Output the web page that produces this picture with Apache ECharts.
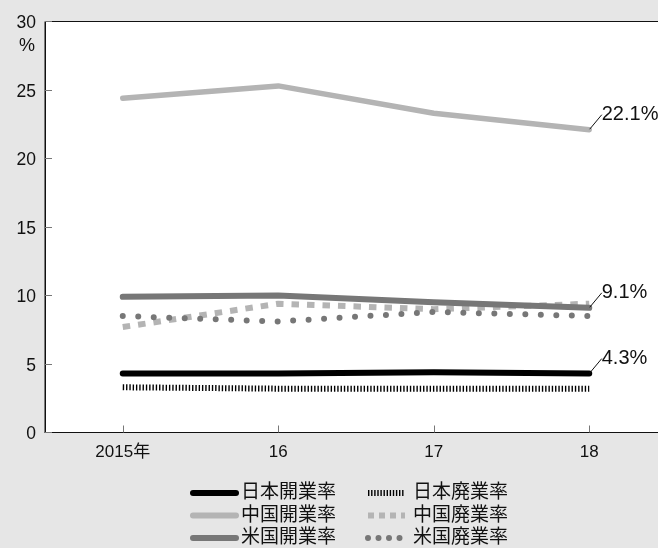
<!DOCTYPE html>
<html>
<head>
<meta charset="utf-8">
<script src="https://cdn.jsdelivr.net/npm/echarts@6/dist/echarts.min.js"></script>
<style>
  html, body { margin: 0; padding: 0; background: #e6e6e6; }
  #chart { width: 658px; height: 548px; }
</style>
</head>
<body>
<div id="chart"></div>
<script>
// Years on the category axis
const years = ['2015年', '16', '17', '18'];

// Start-up (開業率) and closure (廃業率) rates, %
const jpOpen  = [4.3, 4.3, 4.4, 4.3];
const jpClose = [3.3, 3.2, 3.2, 3.2];
const cnOpen  = [24.4, 25.3, 23.3, 22.1];
const cnClose = [7.7, 9.4, 9.0, 9.4];
const usOpen  = [9.9, 10.0, 9.5, 9.1];
const usClose = [8.5, 8.1, 8.8, 8.5];

// Value-axis range
const yMin = 0, yMax = 30, yStep = 5;

const font = "'Liberation Sans', 'Noto Sans CJK JP', sans-serif";

// Only the final year gets a value label, moved up-right with a leader line
function withEndLabel(values, labelled) {
  return values.map((v, i) => {
    if (labelled && i === values.length - 1) {
      return { value: v, symbol: 'circle', symbolSize: 1, label: { show: true } };
    }
    return v;
  });
}

function lineSeries(name, values, color, width, dash, cap, labelled) {
  return {
    name: name,
    type: 'line',
    data: withEndLabel(values, labelled),
    symbol: 'none',
    showSymbol: true,
    showAllSymbol: true,
    smooth: false,
    z: 3,
    lineStyle: { color: color, width: width, type: dash, cap: cap, join: 'round' },
    itemStyle: { color: color },
    emphasis: { disabled: true },
    label: {
      show: false,
      position: 'right',
      distance: 5,
      formatter: p => p.value.toFixed(1) + '%',
      fontFamily: font,
      fontSize: 20,
      lineHeight: 14,
      color: '#111'
    },
    labelLayout: { dx: 7, dy: -15 },
    labelLine: { show: true, lineStyle: { color: '#111', width: 1 } }
  };
}

const legendCommon = {
  orient: 'vertical',
  top: 483,
  padding: 0,
  itemHeight: 8,
  itemGap: 2.5,
  selectedMode: false,
  itemStyle: { opacity: 0 },
  lineStyle: { width: 6 }
};

const chart = echarts.init(document.getElementById('chart'), null, { renderer: 'canvas' });

chart.setOption({
  backgroundColor: '#e6e6e6',
  animation: false,
  grid: {
    left: 45,
    top: 21.5,
    width: 622,
    height: 411,
    outerBoundsMode: 'none',
    show: true,
    backgroundColor: '#ffffff',
    borderColor: '#111',
    borderWidth: 1,
    containLabel: false
  },
  xAxis: {
    type: 'category',
    data: years,
    boundaryGap: true,
    axisLine: { show: true, lineStyle: { color: '#111', width: 1 } },
    axisTick: { show: true, inside: true, length: 7, alignWithLabel: true, lineStyle: { color: '#777' } },
    axisLabel: { fontFamily: font, fontSize: 17, color: '#111', margin: 11 },
    splitLine: { show: false }
  },
  yAxis: {
    type: 'value',
    min: yMin,
    max: yMax,
    interval: yStep,
    name: '%',
    nameLocation: 'end',
    nameGap: -16,
    nameTextStyle: { fontFamily: font, fontSize: 18, color: '#111', align: 'right', verticalAlign: 'top', padding: [0, 10, 0, 0] },
    axisLine: { show: true, lineStyle: { color: '#111', width: 1 } },
    axisTick: { show: true, inside: true, length: 7, lineStyle: { color: '#777' } },
    axisLabel: { fontFamily: font, fontSize: 17.5, color: '#111', margin: 9, verticalAlign: 'top', lineHeight: 4 },
    splitLine: { show: false }
  },
  legend: [
    Object.assign({}, legendCommon, {
      data: ['日本開業率', '中国開業率', '米国開業率'],
      left: 190,
      itemWidth: 43,
      textStyle: { fontFamily: font, fontSize: 19, color: '#111', lineHeight: 20, padding: [0, 0, 0, 0] }
    }),
    Object.assign({}, legendCommon, {
      data: [
        { name: '日本廃業率', lineStyle: { type: [1.4, 1.7], cap: 'butt' } },
        { name: '中国廃業率', lineStyle: { type: [6, 5], cap: 'butt' } },
        { name: '米国廃業率', lineStyle: { type: [0, 10.5], cap: 'round' } }
      ],
      left: 365,
      itemWidth: 37,
      textStyle: { fontFamily: font, fontSize: 19, color: '#111', lineHeight: 20, padding: [0, 0, 0, 3] }
    })
  ],
  series: [
    lineSeries('日本開業率', jpOpen, '#000000', 6, 'solid', 'round', true),
    lineSeries('日本廃業率', jpClose, '#000000', 6, [1.4, 1.9], 'butt', false),
    lineSeries('中国開業率', cnOpen, '#b4b4b4', 5.5, 'solid', 'round', true),
    lineSeries('中国廃業率', cnClose, '#b4b4b4', 6, [7.5, 8], 'butt', false),
    lineSeries('米国開業率', usOpen, '#777777', 6, 'solid', 'round', true),
    lineSeries('米国廃業率', usClose, '#777777', 6, [0, 15.5], 'round', false)
  ]
});
</script>
</body>
</html>
